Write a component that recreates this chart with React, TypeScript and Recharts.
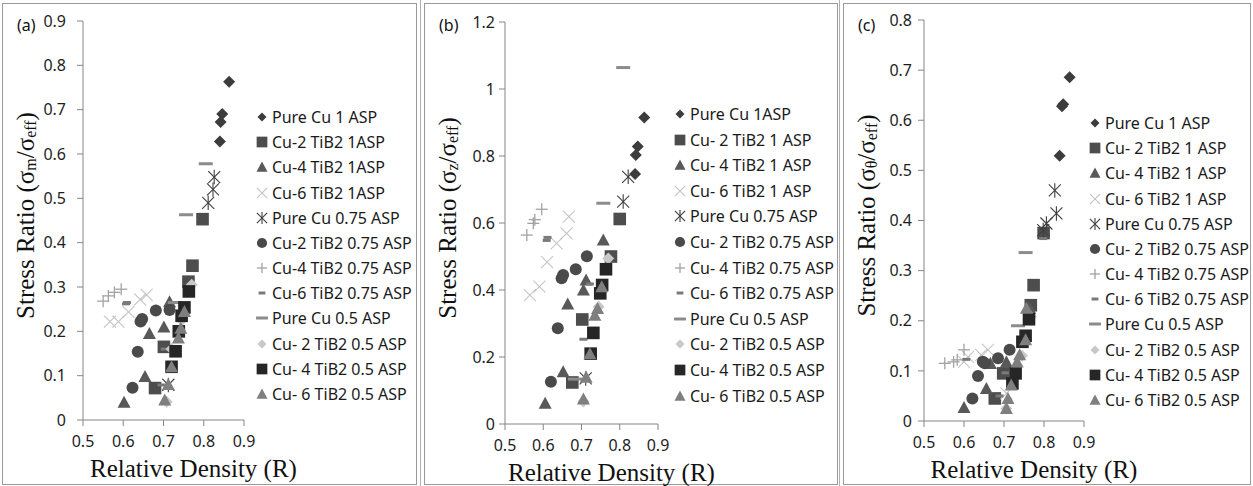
import { ScatterChart, Scatter, XAxis, YAxis, Legend, Label } from 'recharts'

type Pt = [number, number]

const X_TICKS = [0.5, 0.6, 0.7, 0.8, 0.9]
const A_TICKS = [0, 0.1, 0.2, 0.3, 0.4, 0.5, 0.6, 0.7, 0.8, 0.9]
const B_TICKS = [0, 0.2, 0.4, 0.6, 0.8, 1, 1.2]
const C_TICKS = [0, 0.1, 0.2, 0.3, 0.4, 0.5, 0.6, 0.7, 0.8]

const NAMES_A = [
  'Pure Cu 1 ASP', 'Cu-2 TiB2 1ASP', 'Cu-4 TiB2 1ASP', 'Cu-6 TiB2 1ASP',
  'Pure Cu 0.75 ASP', 'Cu-2 TiB2 0.75 ASP', 'Cu-4 TiB2 0.75 ASP', 'Cu-6 TiB2 0.75 ASP',
  'Pure Cu 0.5 ASP', 'Cu- 2 TiB2 0.5 ASP', 'Cu- 4 TiB2 0.5 ASP', 'Cu- 6 TiB2 0.5 ASP',
]
const NAMES_B = [
  'Pure Cu 1ASP', 'Cu- 2 TiB2 1 ASP', 'Cu- 4 TiB2 1 ASP', 'Cu- 6 TiB2 1 ASP',
  'Pure Cu 0.75 ASP', 'Cu- 2 TiB2 0.75 ASP', 'Cu- 4 TiB2 0.75 ASP', 'Cu- 6 TiB2 0.75 ASP',
  'Pure Cu 0.5 ASP', 'Cu- 2 TiB2 0.5 ASP', 'Cu- 4 TiB2 0.5 ASP', 'Cu- 6 TiB2 0.5 ASP',
]
const NAMES_C = [
  'Pure Cu 1 ASP', 'Cu- 2 TiB2 1 ASP', 'Cu- 4 TiB2 1 ASP', 'Cu- 6 TiB2 1 ASP',
  'Pure Cu 0.75 ASP', 'Cu- 2 TiB2 0.75 ASP', 'Cu- 4 TiB2 0.75 ASP', 'Cu- 6 TiB2 0.75 ASP',
  'Pure Cu 0.5 ASP', 'Cu- 2 TiB2 0.5 ASP', 'Cu- 4 TiB2 0.5 ASP', 'Cu- 6 TiB2 0.5 ASP',
]

const KINDS = ['diamond', 'square', 'triangle', 'x', 'star', 'circle', 'plus', 'dash', 'longdash', 'diamond', 'square', 'triangle']
const COLORS = ['#3c3c3c', '#4d4d4d', '#595959', '#c4c4c4', '#3f3f3f', '#4a4a4a', '#a3a3a3', '#7a7a7a', '#8c8c8c', '#c8c8c8', '#262626', '#7f7f7f']

// (a) sigma_m / sigma_eff
const aPure1: Pt[] = [[0.863, 0.763], [0.846, 0.69], [0.842, 0.672], [0.84, 0.628]]
const aCu2_1: Pt[] = [[0.797, 0.453], [0.772, 0.348], [0.762, 0.312], [0.701, 0.165], [0.679, 0.072]]
const aCu4_1: Pt[] = [[0.602, 0.04], [0.654, 0.098], [0.665, 0.195], [0.701, 0.21], [0.715, 0.267]]
const aCu6_1: Pt[] = [[0.567, 0.222], [0.588, 0.222], [0.613, 0.244], [0.642, 0.272], [0.658, 0.282], [0.712, 0.08]]
const aPure075: Pt[] = [[0.811, 0.49], [0.823, 0.52], [0.826, 0.548], [0.712, 0.079]]
const aCu2_075: Pt[] = [[0.623, 0.073], [0.636, 0.154], [0.643, 0.222], [0.647, 0.228], [0.681, 0.247], [0.715, 0.248]]
const aCu4_075: Pt[] = [[0.55, 0.268], [0.563, 0.28], [0.578, 0.288], [0.595, 0.295]]
const aCu6_075: Pt[] = [[0.609, 0.265], [0.607, 0.262], [0.695, 0.079], [0.703, 0.16]]
const aPure05: Pt[] = [[0.805, 0.578], [0.756, 0.463], [0.728, 0.265]]
const aCu2_05: Pt[] = [[0.77, 0.305], [0.708, 0.041], [0.745, 0.225], [0.72, 0.16]]
const aCu4_05: Pt[] = [[0.763, 0.29], [0.752, 0.254], [0.745, 0.235], [0.738, 0.2], [0.73, 0.155], [0.72, 0.12]]
const aCu6_05: Pt[] = [[0.752, 0.245], [0.743, 0.207], [0.737, 0.185], [0.72, 0.12], [0.712, 0.08], [0.703, 0.045]]

// (b) sigma_z / sigma_eff
const bPure1: Pt[] = [[0.864, 0.915], [0.847, 0.828], [0.842, 0.803], [0.84, 0.746]]
const bCu2_1: Pt[] = [[0.8, 0.612], [0.777, 0.5], [0.702, 0.312], [0.676, 0.124]]
const bCu4_1: Pt[] = [[0.605, 0.062], [0.652, 0.156], [0.664, 0.358], [0.705, 0.4], [0.712, 0.43], [0.757, 0.549]]
const bCu6_1: Pt[] = [[0.565, 0.385], [0.59, 0.41], [0.61, 0.483], [0.635, 0.539], [0.661, 0.569], [0.667, 0.619]]
const bPure075: Pt[] = [[0.809, 0.664], [0.822, 0.738], [0.711, 0.136]]
const bCu2_075: Pt[] = [[0.62, 0.126], [0.638, 0.286], [0.648, 0.435], [0.652, 0.445], [0.685, 0.462], [0.714, 0.501]]
const bCu4_075: Pt[] = [[0.557, 0.564], [0.574, 0.599], [0.578, 0.61], [0.596, 0.641]]
const bCu6_075: Pt[] = [[0.611, 0.557], [0.609, 0.548], [0.705, 0.253], [0.722, 0.418]]
const bPure05: Pt[] = [[0.809, 1.064], [0.757, 0.659], [0.683, 0.134]]
const bCu2_05: Pt[] = [[0.77, 0.494], [0.705, 0.067], [0.745, 0.35]]
const bCu4_05: Pt[] = [[0.764, 0.462], [0.754, 0.415], [0.749, 0.39], [0.731, 0.272], [0.724, 0.21]]
const bCu6_05: Pt[] = [[0.753, 0.41], [0.742, 0.345], [0.735, 0.325], [0.722, 0.21], [0.712, 0.14], [0.705, 0.075]]

// (c) sigma_theta / sigma_eff
const cPure1: Pt[] = [[0.864, 0.686], [0.848, 0.632], [0.845, 0.628], [0.839, 0.529]]
const cCu2_1: Pt[] = [[0.799, 0.375], [0.774, 0.271], [0.767, 0.231], [0.698, 0.095], [0.677, 0.045]]
const cCu4_1: Pt[] = [[0.6, 0.027], [0.656, 0.065], [0.666, 0.115], [0.706, 0.118], [0.764, 0.225]]
const cCu6_1: Pt[] = [[0.6, 0.118], [0.61, 0.128], [0.643, 0.132], [0.66, 0.142], [0.706, 0.055]]
const cPure075: Pt[] = [[0.827, 0.46], [0.831, 0.414], [0.806, 0.394], [0.798, 0.381]]
const cCu2_075: Pt[] = [[0.621, 0.045], [0.635, 0.09], [0.647, 0.118], [0.652, 0.115], [0.685, 0.125], [0.714, 0.142]]
const cCu4_075: Pt[] = [[0.552, 0.115], [0.574, 0.118], [0.583, 0.122], [0.6, 0.142]]
const cCu6_075: Pt[] = [[0.606, 0.123], [0.798, 0.364], [0.704, 0.096], [0.689, 0.05]]
const cPure05: Pt[] = [[0.754, 0.336], [0.735, 0.19]]
const cCu2_05: Pt[] = [[0.767, 0.208], [0.706, 0.025], [0.745, 0.13]]
const cCu4_05: Pt[] = [[0.7625, 0.203], [0.754, 0.17], [0.746, 0.158], [0.729, 0.095], [0.721, 0.075]]
const cCu6_05: Pt[] = [[0.756, 0.225], [0.754, 0.162], [0.739, 0.132], [0.733, 0.118], [0.718, 0.072], [0.71, 0.045], [0.706, 0.025]]

const SANS = '"Noto Sans", "Open Sans", sans-serif'
const SERIF = '"Liberation Serif", "Times New Roman", serif'
const AXIS = '#868686'

const fmt = (v: number) => String(Number(v.toFixed(1)))

function Marker({ kind, color, cx, cy, s = 1 }: { kind: string; color: string; cx: number; cy: number; s?: number }) {
  switch (kind) {
    case 'diamond': {
      const r = 6 * s
      return <polygon points={`${cx},${cy - r} ${cx + r},${cy} ${cx},${cy + r} ${cx - r},${cy}`} fill={color} />
    }
    case 'square': {
      const h = 6.3 * s
      return <rect x={cx - h} y={cy - h} width={2 * h} height={2 * h} fill={color} />
    }
    case 'triangle': {
      const h = 6.5 * s
      return <polygon points={`${cx},${cy - h} ${cx + h},${cy + h * 0.85} ${cx - h},${cy + h * 0.85}`} fill={color} />
    }
    case 'circle':
      return <circle cx={cx} cy={cy} r={6 * s} fill={color} />
    case 'x': {
      const r = 6 * s
      return (
        <g stroke={color} strokeWidth={1.1}>
          <line x1={cx - r} y1={cy - r} x2={cx + r} y2={cy + r} />
          <line x1={cx - r} y1={cy + r} x2={cx + r} y2={cy - r} />
        </g>
      )
    }
    case 'star': {
      const r = 6 * s
      return (
        <g stroke={color} strokeWidth={1.1}>
          <line x1={cx - r} y1={cy - r} x2={cx + r} y2={cy + r} />
          <line x1={cx - r} y1={cy + r} x2={cx + r} y2={cy - r} />
          <line x1={cx} y1={cy - r * 1.2} x2={cx} y2={cy + r * 1.2} />
        </g>
      )
    }
    case 'plus': {
      const r = 6 * s
      return (
        <g stroke={color} strokeWidth={1.3}>
          <line x1={cx - r} y1={cy} x2={cx + r} y2={cy} />
          <line x1={cx} y1={cy - r} x2={cx} y2={cy + r} />
        </g>
      )
    }
    case 'dash':
      return <rect x={cx - 4 * s} y={cy - 1.5} width={8 * s} height={3} fill={color} />
    case 'longdash':
      return <rect x={cx - 7 * s} y={cy - 1.5} width={14 * s} height={3} fill={color} />
    default:
      return null
  }
}

function LegendBox({ names, rowH }: { names: string[]; rowH: number }) {
  return (
    <div style={{ fontFamily: SANS, fontSize: 16, color: '#1a1a1a' }}>
      {names.map((n, i) => (
        <div key={n} style={{ height: rowH, display: 'flex', alignItems: 'center', whiteSpace: 'nowrap' }}>
          <svg width={16} height={16} style={{ flex: 'none' }}>
            <Marker kind={KINDS[i]} color={COLORS[i]} cx={8} cy={8} s={i === 0 || i === 9 ? 0.75 : 0.85} />
          </svg>
          <span style={{ marginLeft: 2 }}>{n}</span>
        </div>
      ))}
    </div>
  )
}

interface PanelProps {
  tag: string
  sub: string
  names: string[]
  series: Pt[][]
  yTicks: number[]
  left: number
  width: number
  top: number
  bottom: number
  right: number
  yTickMargin: number
  legendX: number
  legendY: number
  rowH: number
}

function Panel(p: PanelProps) {
  const yMax = p.yTicks[p.yTicks.length - 1]
  return (
    <div style={{ position: 'absolute', left: p.left, top: 0, width: p.width, height: 486 }}>
      <ScatterChart width={p.width} height={486} margin={{ top: p.top, right: p.right, bottom: p.bottom, left: 0 }}>
        <XAxis
          type="number"
          dataKey="x"
          domain={[0.5, 0.9]}
          ticks={X_TICKS}
          tickFormatter={fmt}
          allowDataOverflow
          height={30}
          stroke={AXIS}
          tickSize={6}
          tickMargin={10}
          tick={{ fill: '#1e1e1e', fontSize: 16, fontFamily: SANS }}
        >
          <Label
            content={({ viewBox }: any) => (
              <text
                x={viewBox.x + viewBox.width / 2 + 30}
                y={viewBox.y + 48}
                textAnchor="middle"
                dominantBaseline="central"
                fontFamily={SERIF}
                fontSize={25}
                fill="#111"
              >
                Relative Density (R)
              </text>
            )}
          />
        </XAxis>
        <YAxis
          type="number"
          dataKey="y"
          domain={[0, yMax]}
          ticks={p.yTicks}
          tickFormatter={fmt}
          allowDataOverflow
          width={81}
          stroke={AXIS}
          tickSize={6}
          tickMargin={p.yTickMargin}
          tick={{ fill: '#1e1e1e', fontSize: 16, fontFamily: SANS }}
        >
          <Label
            content={({ viewBox }: any) => {
              const cx = viewBox.x + viewBox.width - 58
              const cy = viewBox.y + viewBox.height / 2 - 5
              return (
                <text
                  x={cx}
                  y={cy}
                  transform={`rotate(-90, ${cx}, ${cy})`}
                  textAnchor="middle"
                  dominantBaseline="central"
                  fontFamily={SERIF}
                  fontSize={25}
                  fill="#111"
                >
                  Stress Ratio (σ
                  <tspan dy={5} fontSize={16}>{p.sub}</tspan>
                  <tspan dy={-5}>/σ</tspan>
                  <tspan dy={5} fontSize={16}>eff</tspan>
                  <tspan dy={-5}>)</tspan>
                </text>
              )
            }}
          />
        </YAxis>
        <Legend
          layout="horizontal"
          align="center"
          verticalAlign="middle"
          wrapperStyle={{ left: p.legendX - 8, top: p.legendY - p.rowH / 2, width: 180, height: p.rowH * 12 }}
          content={() => <LegendBox names={p.names} rowH={p.rowH} />}
        />
        {p.series.map((pts, i) => (
          <Scatter
            key={p.names[i]}
            name={p.names[i]}
            data={pts.map(([x, y]) => ({ x, y }))}
            isAnimationActive={false}
            shape={(sp: any) => <Marker kind={KINDS[i]} color={COLORS[i]} cx={sp.cx} cy={sp.cy} />}
          />
        ))}
      </ScatterChart>
      <div style={{ position: 'absolute', left: 15, top: 14, fontFamily: SANS, fontSize: 16, color: '#111' }}>{p.tag}</div>
    </div>
  )
}

const frame = (left: number, width: number) => (
  <div
    style={{
      position: 'absolute',
      left,
      top: 3,
      width,
      height: 482,
      border: '1px solid #9a9a9a',
      boxSizing: 'border-box',
    }}
  />
)

export default function App() {
  return (
    <div style={{ position: 'absolute', left: 0, top: 0, width: 1253, height: 486, background: '#fff', overflow: 'hidden' }}>
      {frame(2, 415)}
      <div style={{ position: 'absolute', left: 420, top: 0, width: 1, height: 486, background: '#b0b0b0' }} />
      {frame(424, 414)}
      <div style={{ position: 'absolute', left: 839, top: 0, width: 1, height: 486, background: '#b0b0b0' }} />
      {frame(843, 408)}
      <Panel
        tag="(a)"
        sub="m"
        names={NAMES_A}
        series={[aPure1, aCu2_1, aCu4_1, aCu6_1, aPure075, aCu2_075, aCu4_075, aCu6_075, aPure05, aCu2_05, aCu4_05, aCu6_05]}
        yTicks={A_TICKS}
        left={2}
        width={414}
        top={21}
        bottom={36}
        right={172}
        yTickMargin={11}
        legendX={260}
        legendY={117}
        rowH={25.2}
      />
      <Panel
        tag="(b)"
        sub="z"
        names={NAMES_B}
        series={[bPure1, bCu2_1, bCu4_1, bCu6_1, bPure075, bCu2_075, bCu4_075, bCu6_075, bPure05, bCu2_05, bCu4_05, bCu6_05]}
        yTicks={B_TICKS}
        left={424}
        width={413}
        top={22}
        bottom={32}
        right={179}
        yTickMargin={4}
        legendX={256}
        legendY={114}
        rowH={25.6}
      />
      <Panel
        tag="(c)"
        sub="θ"
        names={NAMES_C}
        series={[cPure1, cCu2_1, cCu4_1, cCu6_1, cPure075, cCu2_075, cCu4_075, cCu6_075, cPure05, cCu2_05, cCu4_05, cCu6_05]}
        yTicks={C_TICKS}
        left={843}
        width={408}
        top={20}
        bottom={35}
        right={167}
        yTickMargin={6}
        legendX={252}
        legendY={123}
        rowH={25.2}
      />
    </div>
  )
}
